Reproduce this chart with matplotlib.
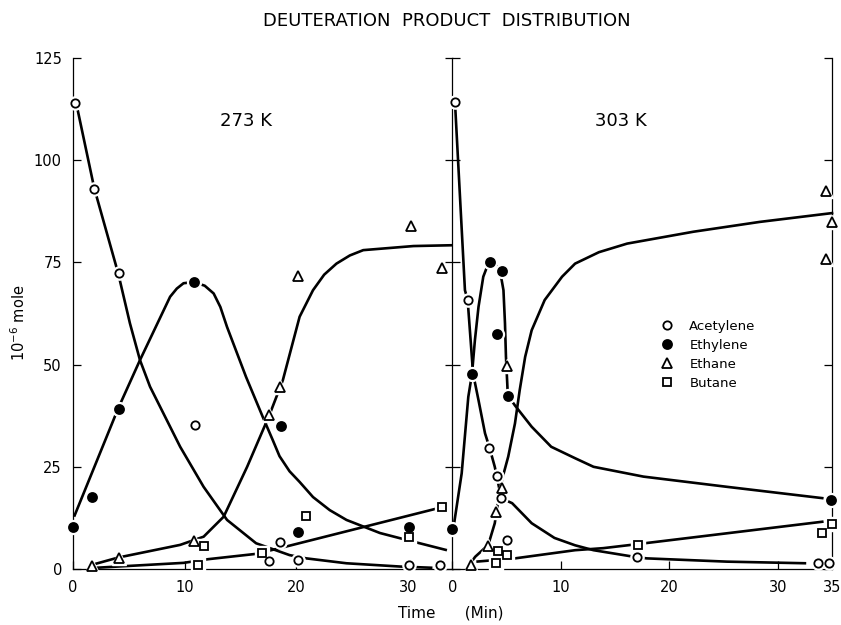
import numpy as np
import matplotlib.pyplot as plt

# ---- measured points, 273 K ----
acet_273_t = [0.2, 1.9, 4.1, 10.9, 17.6, 18.5, 20.2, 30.1, 32.9]
acet_273 = [114.1, 93.0, 72.4, 35.2, 2.0, 6.6, 2.2, 1.1, 1.1]
ethy_273_t = [0.0, 1.7, 4.1, 10.8, 18.6, 20.2, 30.1]
ethy_273 = [10.3, 17.7, 39.2, 70.2, 35.0, 9.1, 10.2]
etha_273_t = [1.7, 4.1, 10.8, 17.6, 18.5, 20.2, 30.3, 33.1]
etha_273 = [0.8, 2.6, 6.8, 37.6, 44.4, 71.6, 83.9, 73.7]
buta_273_t = [11.2, 11.7, 16.9, 20.9, 30.1, 33.1]
buta_273 = [1.1, 5.6, 4.0, 13.0, 7.9, 15.1]

# ---- measured points, 303 K ----
acet_303_t = [0.2, 1.4, 3.4, 4.1, 4.5, 5.0, 17.0, 33.7, 34.7]
acet_303 = [114.3, 65.8, 29.7, 22.8, 17.3, 7.1, 3.0, 1.5, 1.5]
ethy_303_t = [0.0, 1.8, 3.5, 4.1, 4.6, 5.1, 34.9]
ethy_303 = [9.9, 47.7, 75.1, 57.4, 72.9, 42.4, 17.0]
etha_303_t = [1.7, 3.3, 4.0, 4.6, 5.0, 34.4, 35.0, 34.4]
etha_303 = [1.0, 5.6, 14.0, 19.7, 49.7, 92.4, 84.8, 75.8]
buta_303_t = [4.0, 4.2, 5.0, 17.1, 34.1, 35.0]
buta_303 = [1.4, 4.4, 3.4, 5.9, 8.9, 11.0]

# ---- hand drawn trend curves ----
c_acet_273_t = [0.27, 1.9, 4.05, 4.3, 5.1, 6.0, 6.9, 7.8, 9.6, 11.7, 13.8, 16.4, 19.4, 20.9,
                24.5, 29.3, 32.2]
c_acet_273 = [114.2, 93.2, 72.3, 69.4, 60.1, 51.1, 44.6, 39.7, 29.9, 20.1, 12.0, 6.3, 3.4, 2.6,
              1.4, 0.6, 0.3]
c_ethy_273_t = [0.1, 4.05, 6.0, 8.7, 9.3, 9.9, 10.8, 11.8, 12.6, 13.2, 13.8, 15.5, 17.0, 17.9,
                18.5, 19.4, 20.3, 21.5, 23.0, 24.5, 27.5, 29.9, 33.5]
c_ethy_273 = [12.8, 39.3, 51.1, 66.6, 68.6, 69.9, 70.2, 69.3, 67.4, 64.1, 59.2, 47.0, 37.2, 31.5,
              27.6, 23.9, 21.3, 17.6, 14.4, 12.0, 8.8, 7.1, 4.6]
c_etha_273_t = [1.67, 4.05, 9.6, 11.7, 13.5, 15.6, 17.6, 18.8, 20.3, 21.5, 22.5, 23.6, 24.8,
                26.0, 30.5, 34.0]
c_etha_273 = [1.0, 2.8, 5.9, 7.9, 12.8, 25.0, 37.7, 46.2, 61.7, 68.2, 72.0, 74.7, 76.7,
              78.0, 79.0, 79.2]
c_buta_273_t = [2.06, 9.9, 12.1, 16.4, 19.1, 32.6]
c_buta_273 = [0.3, 1.5, 2.4, 3.7, 5.5, 14.8]

c_acet_303_t = [0.23, 1.15, 1.4, 1.9, 2.4, 3.0, 3.4, 3.9, 4.07, 4.5, 5.5, 7.3, 9.4, 11.3,
                13.0, 16.7, 17.9, 25.3, 32.6]
c_acet_303 = [114.3, 68.2, 65.8, 47.8, 41.3, 33.2, 29.8, 25.0, 22.8, 17.3, 16.1, 11.2, 7.6, 5.8,
              4.6, 3.0, 2.6, 1.8, 1.4]
c_ethy_303_t = [0.07, 0.85, 1.46, 1.8, 2.07, 2.4, 2.84, 3.3, 3.5, 4.0, 4.4, 4.7, 4.84, 4.93,
                5.05, 5.1, 5.76, 7.3, 9.1, 11.3, 13.0, 17.6, 25.3, 34.2]
c_ethy_303 = [9.7, 23.4, 42.1, 47.7, 56.0, 64.1, 71.5, 74.7, 75.1, 74.3, 72.7, 68.2, 60.1, 51.9,
              45.4, 42.5, 40.0, 34.8, 29.9, 27.1, 25.0, 22.6, 20.1, 17.3]
c_etha_303_t = [1.6, 2.1, 3.3, 3.9, 4.07, 4.4, 4.6, 5.14, 5.76, 6.2, 6.7, 7.3, 8.5, 10.1,
                11.3, 13.5, 16.1, 22.2, 28.3, 35.1]
c_etha_303 = [1.2, 3.0, 5.9, 11.2, 14.3, 19.3, 22.2, 27.5, 35.6, 43.8, 51.9, 58.4, 65.8, 71.5,
              74.7, 77.5, 79.6, 82.5, 84.9, 87.1]
c_buta_303_t = [2.2, 4.0, 5.76, 11.3, 13.9, 17.1, 34.2]
c_buta_303 = [1.8, 2.2, 2.6, 4.6, 5.1, 6.1, 11.6]

names = ['Acetylene', 'Ethylene', 'Ethane', 'Butane']
styles = {
    'Acetylene': dict(marker='o', ms=6, mfc='white'),
    'Ethylene': dict(marker='o', ms=6.5, mfc='black'),
    'Ethane': dict(marker='^', ms=7, mfc='white'),
    'Butane': dict(marker='s', ms=6, mfc='white'),
}

fig = plt.figure(figsize=(8.41, 6.25), dpi=100)
ax1 = fig.add_axes([0.0868, 0.0896, 0.4513, 0.8176])
ax2 = fig.add_axes([0.538, 0.0896, 0.4516, 0.8176])

panels = [
    (ax1, 34.0, [0, 10, 20, 30], '273 K',
     [(c_acet_273_t, c_acet_273), (c_ethy_273_t, c_ethy_273),
      (c_etha_273_t, c_etha_273), (c_buta_273_t, c_buta_273)],
     [(acet_273_t, acet_273), (ethy_273_t, ethy_273),
      (etha_273_t, etha_273), (buta_273_t, buta_273)]),
    (ax2, 35.0, [0, 10, 20, 30, 35], '303 K',
     [(c_acet_303_t, c_acet_303), (c_ethy_303_t, c_ethy_303),
      (c_etha_303_t, c_etha_303), (c_buta_303_t, c_buta_303)],
     [(acet_303_t, acet_303), (ethy_303_t, ethy_303),
      (etha_303_t, etha_303), (buta_303_t, buta_303)]),
]

for ax, xmax, xt, label, curves, points in panels:
    for cx, cy in curves:
        ax.plot(cx, cy, color='black', lw=1.9, solid_capstyle='butt',
                solid_joinstyle='round', zorder=2, clip_on=False)
    for name, (px, py) in zip(names, points):
        st = styles[name]
        # white halo so the curves break around each symbol
        ax.plot(px, py, ls='none', marker=st['marker'], ms=st['ms'] + 3.5, mfc='white',
                mec='white', zorder=3, clip_on=False)
        ax.plot(px, py, ls='none', marker=st['marker'], ms=st['ms'], mfc=st['mfc'],
                mec='black', mew=1.3, zorder=4, clip_on=False,
                label=name if ax is ax2 else None)
    ax.set_xlim(0, xmax)
    ax.set_ylim(0, 125)
    ax.set_xticks(xt)
    ax.set_yticks([0, 25, 50, 75, 100, 125])
    ax.spines['top'].set_visible(False)
    for s in ax.spines.values():
        s.set_linewidth(0.9)
    ax.tick_params(direction='in', length=6, width=0.9, labelsize=10.5, pad=8,
                   left=True, right=True)
    ax.text(15.5, 109.5, label, ha='center', va='center', fontsize=13)

ax1.spines['right'].set_visible(False)
ax2.tick_params(labelleft=False)

ax2.legend(loc='upper left', bbox_to_anchor=(0.53, 0.50), frameon=False, borderpad=0,
           handlelength=1.0, handletextpad=1.2, labelspacing=0.45, fontsize=9.5)

fig.text(0.531, 0.966, 'DEUTERATION  PRODUCT  DISTRIBUTION', ha='center', va='center',
         fontsize=13)
fig.text(0.536, 0.019, 'Time      (Min)', ha='center', va='center', fontsize=11)
fig.text(0.022, 0.483, '10$^{-6}$ mole', ha='center', va='center', rotation=90, fontsize=10.5)

fig.savefig('out.png', dpi=100)
